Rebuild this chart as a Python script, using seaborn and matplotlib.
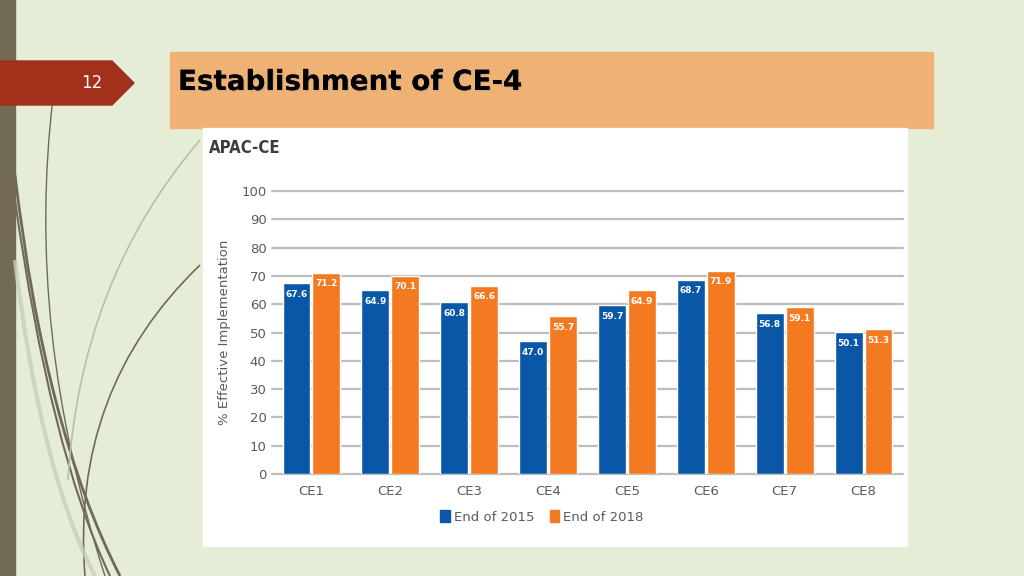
import matplotlib
matplotlib.use('Agg')
import matplotlib.pyplot as plt
import matplotlib.patches as mpatches
import matplotlib.patheffects as pe
from matplotlib.path import Path
import pandas as pd
import seaborn as sns

# Dados do grafico
categorias = ['CE1', 'CE2', 'CE3', 'CE4', 'CE5', 'CE6', 'CE7', 'CE8']
fim_2015 = [67.6, 64.9, 60.8, 47.0, 59.7, 68.7, 56.8, 50.1]
fim_2018 = [71.2, 70.1, 66.6, 55.7, 64.9, 71.9, 59.1, 51.3]
series = ['End of 2015', 'End of 2018']
cores = {'End of 2015': '#0A57A8', 'End of 2018': '#F47A22'}

df = pd.DataFrame({
    'CE': categorias * 2,
    'Periodo': [series[0]] * len(categorias) + [series[1]] * len(categorias),
    'Valor': fim_2015 + fim_2018,
})

sns.set_style('white')
plt.rcParams['font.family'] = ['DejaVu Sans']

W, H = 1024, 576
fig = plt.figure(figsize=(W / 100, H / 100), dpi=100)
fig.patch.set_facecolor('#E6EDD7')


def fx(px):
    return px / W


def fy(py):
    return 1 - py / H


# Fundo do slide: faixa lateral, curvas decorativas
fig.add_artist(mpatches.Rectangle((0, 0), fx(15), 1, transform=fig.transFigure,
                                  color='#726A52', zorder=1))


def curva(p0, p1, p2, cor, lw, alpha=1.0):
    verts = [(fx(p0[0]), fy(p0[1])), (fx(p1[0]), fy(p1[1])), (fx(p2[0]), fy(p2[1]))]
    path = Path(verts, [Path.MOVETO, Path.CURVE3, Path.CURVE3])
    fig.add_artist(mpatches.PathPatch(path, transform=fig.transFigure, fill=False,
                                      edgecolor=cor, lw=lw, alpha=alpha, zorder=1))


curva((53, 98), (25, 330), (105, 576), '#6E6A55', 1.0)
curva((15, 175), (45, 430), (120, 576), '#6E6A55', 2.0)
curva((15, 200), (50, 450), (110, 576), '#6E6A55', 1.5)
curva((200, 265), (70, 390), (85, 576), '#6E6A55', 1.2)
curva((200, 140), (80, 280), (68, 480), '#B8BFA8', 1.2)
curva((15, 260), (40, 470), (95, 576), '#C8D0B8', 3.0, 0.8)

# Aba vermelha com numero do slide
aba = mpatches.Polygon([(fx(0), fy(61)), (fx(112), fy(61)), (fx(134), fy(83)),
                        (fx(112), fy(105)), (fx(0), fy(105))],
                       closed=True, transform=fig.transFigure, color='#A3301A', zorder=2)
fig.add_artist(aba)
fig.text(fx(92), fy(83), '12', color='white', fontsize=12, ha='center', va='center', zorder=3)

# Caixa do titulo
fig.add_artist(mpatches.Rectangle((fx(170), fy(128)), fx(763), fy(52) - fy(128),
                                  transform=fig.transFigure, color='#F0B274', zorder=2))
fig.text(fx(178), fy(82), 'Establishment of CE-4', fontsize=20, fontweight='bold',
         color='black', ha='left', va='center', zorder=3,
         path_effects=[pe.withSimplePatchShadow(offset=(1, -1), shadow_rgbFace='#999999', alpha=0.35),
                       pe.Normal()])

# Painel branco do grafico
fig.add_artist(mpatches.Rectangle((fx(203), fy(546)), fx(704), fy(128) - fy(546),
                                  transform=fig.transFigure, color='white', zorder=2))
fig.text(fx(209), fy(148), 'APAC-CE', fontsize=12, fontweight='bold', color='#3C3C3C',
         ha='left', va='center', zorder=3, fontstretch='condensed')

# Grafico de barras
ax = fig.add_axes([fx(272), fy(474), fx(631), fy(191) - fy(474)])
ax.set_zorder(4)
ax.patch.set_alpha(0)
sns.barplot(data=df, x='CE', y='Valor', hue='Periodo', hue_order=series, palette=cores,
            width=0.76, gap=0.07, saturation=1, ax=ax, zorder=3, legend=False)

for cont in ax.containers:
    for p in cont:
        v = p.get_height()
        ax.text(p.get_x() + p.get_width() / 2, v - 4, f'{v:.1f}', ha='center', va='center',
                color='white', fontsize=6.5, fontweight='bold', zorder=5)

ax.set_ylim(0, 100)
ax.set_xlim(-0.5, 7.5)
ax.set_yticks(range(0, 101, 10))
ax.yaxis.grid(True, color='#BDBDBD', lw=1.6, zorder=0)
for gl in ax.get_ygridlines():
    gl.set_clip_on(False)
ax.set_axisbelow(True)
for s in ax.spines.values():
    s.set_visible(False)
ax.tick_params(axis='both', length=0, labelsize=9.5, labelcolor='#5A5A5A')
ax.tick_params(axis='y', pad=4)
ax.tick_params(axis='x', pad=8)
ax.set_xlabel('')
ax.set_ylabel('% Effective Implementation', fontsize=9.5, color='#5A5A5A')
ax.yaxis.set_label_coords(-(272 - 231) / 631, 0.5)

handles = [mpatches.Patch(color=cores[s], label=s) for s in series]
leg = fig.legend(handles=handles, loc='center', bbox_to_anchor=(fx(542), fy(517)), ncol=2,
                 frameon=False, handlelength=0.7, handleheight=1.0, handletextpad=0.3,
                 columnspacing=1.2, fontsize=9.5)
for t in leg.get_texts():
    t.set_color('#5A5A5A')
leg.set_zorder(5)

fig.savefig('out.png', dpi=100, facecolor=fig.get_facecolor())
